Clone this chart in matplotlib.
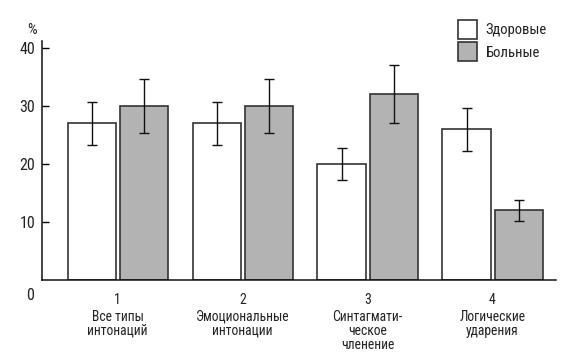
import matplotlib
matplotlib.use("Agg")
import matplotlib.pyplot as plt
import numpy as np

plt.rcParams['font.family'] = ['Roboto Condensed', 'DejaVu Sans']

groups = ["1", "2", "3", "4"]
group_names = ["Все типы\nинтонаций", "Эмоциональные\nинтонации",
               "Синтагмати-\nческое\nчленение", "Логические\nударения"]
healthy = [27, 27, 20, 26]
healthy_err = [3.7, 3.7, 2.8, 3.7]
sick = [30, 30, 32, 12]
sick_err = [4.6, 4.6, 5.0, 1.8]
series_names = ["Здоровые", "Больные"]
yticks = [10, 20, 30, 40]

W, H = 581, 359
fig = plt.figure(figsize=(W / 100, H / 100), dpi=100)
ax = fig.add_axes([42 / W, (H - 280) / H, (556 - 42) / W, (280 - 41) / H])

x = np.arange(1, len(groups) + 1)
bw = 0.384
off = 0.208
edge = '#333333'
txtc = '#222222'
ax.bar(x - off, healthy, bw, color='white', edgecolor=edge, linewidth=1.2,
       label=series_names[0], zorder=2)
ax.bar(x + off, sick, bw, color='#b3b3b3', edgecolor=edge, linewidth=1.2,
       label=series_names[1], zorder=2)
ax.errorbar(x - off, healthy, yerr=healthy_err, fmt='none', ecolor='#111111',
            elinewidth=1.0, capsize=3.3, capthick=1.0, zorder=3)
ax.errorbar(x + off, sick, yerr=sick_err, fmt='none', ecolor='#111111',
            elinewidth=1.0, capsize=3.3, capthick=1.0, zorder=3)

ax.set_xlim(0.396, 4.508)
ax.set_ylim(0, 41.2)
for s in ['top', 'right']:
    ax.spines[s].set_visible(False)
for s in ['left', 'bottom']:
    ax.spines[s].set_linewidth(1.1)
    ax.spines[s].set_color('#111111')

ax.set_yticks(yticks)
ax.set_yticklabels([str(v) for v in yticks], fontsize=11.5, color=txtc)
ax.tick_params(axis='y', direction='in', length=5, width=1.0, pad=5)
ax.set_xticks(x)
ax.set_xticklabels(groups, fontsize=10, color=txtc)
ax.tick_params(axis='x', length=0, pad=9)

for xi, nm in zip(x, group_names):
    ax.annotate(nm, xy=(xi, 0), xycoords=('data', 'axes fraction'),
                xytext=(0, -21.5), textcoords='offset points',
                ha='center', va='top', fontsize=9.8, color=txtc,
                linespacing=1.0)

fig.text(30 / W, 1 - 296 / H, "0", fontsize=11.5, ha='center', va='center', color=txtc)
fig.text(32 / W, 1 - 30 / H, "%", fontsize=11, ha='center', va='center', color=txtc)

leg = ax.legend(loc='upper left', bbox_to_anchor=(458 / W, 1 - 20 / H),
                bbox_transform=fig.transFigure, frameon=False, fontsize=10.5,
                handlelength=1.3, handleheight=1.63, handletextpad=0.6,
                labelspacing=0.22, borderpad=0, borderaxespad=0)
for t in leg.get_texts():
    t.set_color(txtc)

fig.savefig("out.png", dpi=100)
